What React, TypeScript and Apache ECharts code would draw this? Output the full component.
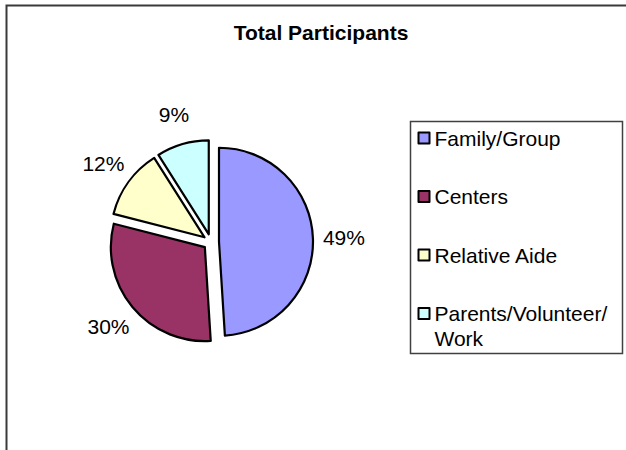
import React, { useEffect, useRef } from 'react';
import * as echarts from 'echarts';

const chartTitle = 'Total Participants';
const categories = ['Family/Group', 'Centers', 'Relative Aide', 'Parents/Volunteer/Work'];
const legendLabels = ['Family/Group', 'Centers', 'Relative Aide', 'Parents/Volunteer/\nWork'];
const shares = [49, 30, 12, 9];
const sliceColors = ['#9999FF', '#993366', '#FFFFCC', '#CCFFFF'];

const FONT = '"Liberation Sans", Arial, Helvetica, sans-serif';

export default function App() {
  const ref = useRef<HTMLDivElement>(null);

  useEffect(() => {
    if (!ref.current) return;
    const chart = echarts.init(ref.current, null, { renderer: 'svg' });
    const center = [211, 242];
    const R = 94;

    chart.setOption({
      animation: false,
      backgroundColor: '#ffffff',
      textStyle: { fontFamily: FONT },
      title: {
        text: chartTitle,
        left: 316,
        top: 17,
        textAlign: 'center',
        textVerticalAlign: 'top',
        textStyle: { fontSize: 21, fontWeight: 'bold', color: '#000', fontFamily: FONT },
      },
      graphic: [
        {
          type: 'polyline',
          silent: true,
          shape: { points: [[6.5, 450], [6.5, 5.5], [626, 5.5]] },
          style: { fill: 'none', stroke: '#3a3a3a', lineWidth: 2 },
        },
        {
          type: 'rect',
          silent: true,
          shape: { x: 410.5, y: 121.5, width: 212, height: 232 },
          style: { fill: 'none', stroke: '#404040', lineWidth: 1.5 },
        },
      ],
      legend: {
        orient: 'vertical',
        left: 412.5,
        top: 95.5,
        itemWidth: 11,
        itemHeight: 11,
        itemGap: -16.5,
        icon: 'rect',
        selectedMode: false,
        itemStyle: { borderColor: '#000', borderWidth: 2 },
        textStyle: {
          fontSize: 21,
          lineHeight: 25,
          color: '#000',
          fontFamily: FONT,
          rich: {
            t: { fontSize: 21, lineHeight: 25, color: '#000', fontFamily: FONT },
          },
        },
        formatter: (name: string) =>
          legendLabels[categories.indexOf(name)]
            .split('\n')
            .map((line) => `{t|${line}}`)
            .join('\n'),
        data: categories.map((name, i) => ({
          name,
          itemStyle: { color: sliceColors[i], borderColor: '#000', borderWidth: 2 },
          textStyle: { padding: i === categories.length - 1 ? [25, 0, 0, 0] : [25, 0, 25, 0] },
        })),
      },
      series: [
        {
          type: 'pie',
          name: chartTitle,
          center,
          radius: R,
          startAngle: 90,
          clockwise: true,
          selectedMode: 'multiple',
          selectedOffset: 8,
          label: { show: false },
          labelLine: { show: false },
          itemStyle: { borderColor: '#000', borderWidth: 2.2 },
          emphasis: { disabled: true },
          select: { itemStyle: { borderColor: '#000', borderWidth: 2.2 } },
          data: categories.map((name, i) => ({
            name,
            value: shares[i],
            selected: true,
            itemStyle: { color: sliceColors[i] },
          })),
        },
        {
          type: 'pie',
          name: 'labels',
          center,
          radius: [R + 26, R + 46],
          startAngle: 90,
          clockwise: true,
          silent: true,
          selectedMode: false,
          itemStyle: { color: 'rgba(0,0,0,0)', borderWidth: 0 },
          label: {
            show: true,
            position: 'inside',
            formatter: (p: any) => `${Math.round(p.percent)}%`,
            fontSize: 21,
            color: '#000',
            fontFamily: FONT,
          },
          labelLine: { show: false },
          emphasis: { disabled: true },
          data: categories.map((name, i) => ({ name, value: shares[i] })),
        },
      ],
    });

    return () => chart.dispose();
  }, []);

  return (
    <div
      ref={ref}
      style={{ position: 'fixed', left: 0, top: 0, width: 626, height: 450 }}
    />
  );
}
